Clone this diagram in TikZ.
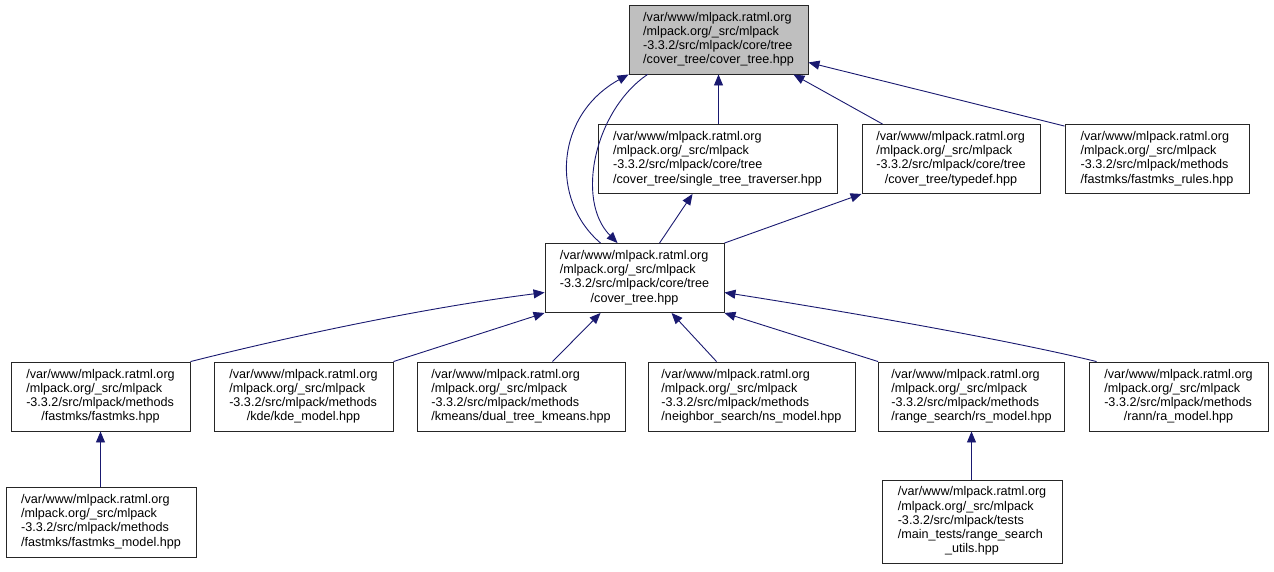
\documentclass[tikz,border=0pt]{standalone}
\usepackage{fontspec}
\setmainfont{Liberation Sans}
\usetikzlibrary{arrows.meta}
\definecolor{edgeblue}{HTML}{191970}
\definecolor{rootgray}{HTML}{BFBFBF}
\newcommand\flines[2]{\begin{tabular}{@{}l@{}}#1\\\multicolumn{1}{@{}c@{}}{#2}\end{tabular}}
\tikzset{
  filebox/.style={draw=black!85, line width=0.9pt, fill=white, inner sep=0pt,
    minimum height=69pt, font=\fontsize{12.6}{14.2}\selectfont},
  rootbox/.style={filebox, fill=rootgray},
  edge/.style={draw=edgeblue, line width=0.9pt, -{Triangle[length=11pt,width=9pt]}}
}
\begin{document}
\begin{tikzpicture}[x=1pt,y=-1pt]
\useasboundingbox (0,0) rectangle (1274,571);
% nodes
\node[rootbox, minimum width=179pt] (root) at (718.5,39.5)
  {\flines{/var/www/mlpack.ratml.org\\/mlpack.org/\_src/mlpack\\-3.3.2/src/mlpack/core/tree}{/cover\_tree/cover\_tree.hpp}};
\node[filebox, minimum width=239pt] (stt) at (717.5,159)
  {\flines{/var/www/mlpack.ratml.org\\/mlpack.org/\_src/mlpack\\-3.3.2/src/mlpack/core/tree}{/cover\_tree/single\_tree\_traverser.hpp}};
\node[filebox, minimum width=178pt] (typedef) at (951,159)
  {\flines{/var/www/mlpack.ratml.org\\/mlpack.org/\_src/mlpack\\-3.3.2/src/mlpack/core/tree}{/cover\_tree/typedef.hpp}};
\node[filebox, minimum width=184pt] (rules) at (1157,159)
  {\flines{/var/www/mlpack.ratml.org\\/mlpack.org/\_src/mlpack\\-3.3.2/src/mlpack/methods}{/fastmks/fastmks\_rules.hpp}};
\node[filebox, minimum width=179pt] (ct) at (634.5,278)
  {\flines{/var/www/mlpack.ratml.org\\/mlpack.org/\_src/mlpack\\-3.3.2/src/mlpack/core/tree}{/cover\_tree.hpp}};
\node[filebox, minimum width=179pt] (fastmks) at (100.5,396.5)
  {\flines{/var/www/mlpack.ratml.org\\/mlpack.org/\_src/mlpack\\-3.3.2/src/mlpack/methods}{/fastmks/fastmks.hpp}};
\node[filebox, minimum width=179pt] (kde) at (303.5,396.5)
  {\flines{/var/www/mlpack.ratml.org\\/mlpack.org/\_src/mlpack\\-3.3.2/src/mlpack/methods}{/kde/kde\_model.hpp}};
\node[filebox, minimum width=208pt] (kmeans) at (521,396.5)
  {\flines{/var/www/mlpack.ratml.org\\/mlpack.org/\_src/mlpack\\-3.3.2/src/mlpack/methods}{/kmeans/dual\_tree\_kmeans.hpp}};
\node[filebox, minimum width=207pt] (ns) at (751.5,396.5)
  {\flines{/var/www/mlpack.ratml.org\\/mlpack.org/\_src/mlpack\\-3.3.2/src/mlpack/methods}{/neighbor\_search/ns\_model.hpp}};
\node[filebox, minimum width=186pt] (rs) at (971.5,396.5)
  {\flines{/var/www/mlpack.ratml.org\\/mlpack.org/\_src/mlpack\\-3.3.2/src/mlpack/methods}{/range\_search/rs\_model.hpp}};
\node[filebox, minimum width=179pt] (ra) at (1178.5,396.5)
  {\flines{/var/www/mlpack.ratml.org\\/mlpack.org/\_src/mlpack\\-3.3.2/src/mlpack/methods}{/rann/ra\_model.hpp}};
\node[filebox, minimum width=190pt, minimum height=70pt] (fmm) at (101,522)
  {\flines{/var/www/mlpack.ratml.org\\/mlpack.org/\_src/mlpack\\-3.3.2/src/mlpack/methods}{/fastmks/fastmks\_model.hpp}};
\node[filebox, minimum width=180pt, minimum height=83pt] (rsu) at (972,521.5)
  {\flines{/var/www/mlpack.ratml.org\\/mlpack.org/\_src/mlpack\\-3.3.2/src/mlpack/tests\\/main\_tests/range\_search}{\_utils.hpp}};
% edges
\draw[edge] (root.south |- stt.north) -- (root.south);
\draw[edge] ([xshift=21pt]typedef.north west) -- ([xshift=-15pt]root.south east);
\draw[edge] ([yshift=-2pt]rules.north west) -- ([yshift=12pt]root.south east);
\draw[edge] ([xshift=56pt]ct.north west) .. controls (550,200) and (555,115) .. (root.south west);
\draw[edge] ([xshift=19pt]root.south west) .. controls (595,110) and (575,200) .. ([xshift=73pt]ct.north west);
\draw[edge] ([xshift=115pt]ct.north west) -- ([xshift=95pt]stt.south west);
\draw[edge] (ct.north east) -- (typedef.south west);
\draw[edge] (fastmks.north east) .. controls (300,334) and (430,307) .. ([yshift=-14.5pt]ct.west);
\draw[edge] (kde.north east) -- (ct.south west);
\draw[edge] ([xshift=136pt]kmeans.north west) -- ([xshift=56pt]ct.south west);
\draw[edge] ([xshift=69pt]ns.north west) -- ([xshift=127pt]ct.south west);
\draw[edge] (rs.north west) -- (ct.south east);
\draw[edge] ([xshift=8pt]ra.north west) .. controls (1000,338) and (830,309) .. ([yshift=-14.5pt]ct.east);
\draw[edge] (fastmks.south |- fmm.north) -- (fastmks.south);
\draw[edge] (rs.south |- rsu.north) -- (rs.south);
\end{tikzpicture}
\end{document}
